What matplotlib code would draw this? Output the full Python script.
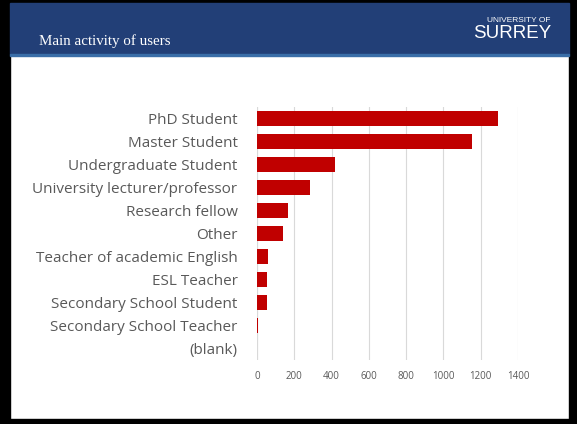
import matplotlib.pyplot as plt
from matplotlib.patches import Rectangle

categories = ['PhD Student', 'Master Student', 'Undergraduate Student',
              'University lecturer/professor', 'Research fellow', 'Other',
              'Teacher of academic English', 'ESL Teacher',
              'Secondary School Student', 'Secondary School Teacher', '(blank)']
users = [1293, 1153, 420, 283, 165, 138, 57, 54, 54, 5, 0]
x_ticks = [0, 200, 400, 600, 800, 1000, 1200, 1400]

W, H = 577, 424
fig = plt.figure(figsize=(W / 100, H / 100), dpi=100)
fig.patch.set_facecolor('white')

# slide frame (black border) and blue header
def box(x0, y0, x1, y1, color):
    fig.patches.append(Rectangle((x0 / W, 1 - y1 / H), (x1 - x0) / W, (y1 - y0) / H,
                                 transform=fig.transFigure, color=color, zorder=0))

box(0, 0, W, 3, 'black')
box(0, 0, 10, H, 'black')
box(569, 0, W, H, 'black')
box(0, 419, W, H, 'black')
box(10, 3, 569, 54, '#223f77')
box(10, 54, 569, 56, '#3a6ea8')

fig.text(39 / W, 1 - 41 / H, 'Main activity of users', color='white',
         fontsize=10.8, family='Liberation Serif', va='center', ha='left')
fig.text(550 / W, 1 - 21 / H, 'UNIVERSITY OF', color='white', fontsize=6,
         family='Liberation Sans', ha='right', va='center')
fig.text(551 / W, 1 - 34 / H, 'SURREY', color='white', fontsize=13.5,
         family='Liberation Sans', ha='right', va='center')

ax = fig.add_axes([257 / W, 1 - 360 / H, (518 - 257) / W, (360 - 107) / H])
ypos = range(len(categories))
ax.barh(ypos, users, height=0.65, color='#c00000', zorder=3)
ax.set_xlim(0, 1400)
ax.set_ylim(len(categories) - 0.5, -0.5)
ax.set_yticks(list(ypos))
ax.set_yticklabels(categories, fontsize=11, color='#595959', family='Open Sans')
ax.set_xticks(x_ticks)
ax.set_xticklabels([str(t) for t in x_ticks], fontsize=7, color='#595959', family='Open Sans')
ax.tick_params(length=0, pad=8)
ax.tick_params(axis='y', pad=14)
ax.grid(axis='x', color='#d9d9d9', linewidth=0.8, zorder=0)
for s in ax.spines.values():
    s.set_visible(False)
ax.axvline(0, color='#d9d9d9', linewidth=0.8, zorder=1)

fig.savefig('out.png', dpi=100)
